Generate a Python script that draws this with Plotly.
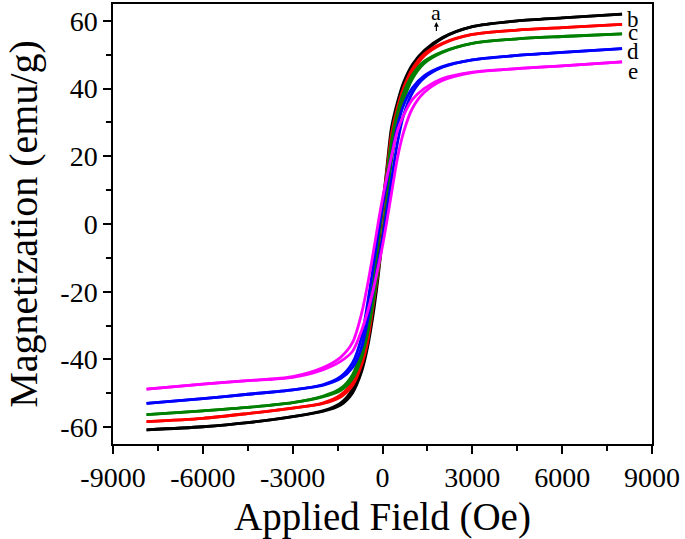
import plotly.graph_objects as go

# Applied field grid (Oe)
field = [-7880, -6000, -4500, -3000, -2000, -1400, -1000, -700, -500, -300, -150, 0,
         150, 300, 500, 700, 1000, 1400, 2000, 3000, 4500, 6000, 8000]

# Magnetization (emu/g): descending (upper) and ascending (lower) branches
a_up = [-60.8, -59.9, -58.7, -56.9, -55.2, -52.9, -48.7, -41.3, -32.5, -20.0, -8.0, 5.0,
        17.0, 28.5, 36.0, 41.7, 47.1, 51.3, 55.1, 58.3, 60.0, 60.9, 62.0]
a_low = [-60.8, -59.9, -58.7, -56.9, -55.4, -53.5, -49.9, -43.7, -36.5, -26.0, -16.0, -4.0,
         9.0, 22.5, 32.0, 39.3, 45.9, 50.7, 54.9, 58.3, 60.0, 60.9, 62.0]

b_up = [-58.4, -57.4, -56.0, -54.4, -52.9, -50.5, -46.5, -39.3, -31.0, -17.5, -6.5, 5.0,
        16.0, 26.5, 34.5, 40.2, 45.9, 50.3, 53.4, 56.0, 57.3, 58.0, 59.0]
b_low = [-58.4, -57.4, -56.0, -54.4, -53.1, -51.1, -47.7, -41.7, -35.0, -23.5, -14.5, -4.0,
         8.0, 20.5, 30.5, 37.8, 44.7, 49.7, 53.2, 56.0, 57.3, 58.0, 59.0]

c_up = [-56.3, -55.2, -54.2, -52.8, -50.9, -48.6, -44.5, -37.1, -28.5, -16.5, -6.0, 5.0,
        15.0, 24.5, 33.0, 38.7, 44.1, 48.1, 50.9, 53.4, 54.7, 55.4, 56.2]
c_low = [-56.3, -55.2, -54.2, -52.8, -51.1, -49.2, -45.7, -39.5, -32.5, -22.5, -14.0, -4.0,
         7.0, 18.5, 29.0, 36.3, 42.9, 47.5, 50.7, 53.4, 54.7, 55.4, 56.2]

d_up = [-53.0, -51.6, -50.3, -49.0, -47.5, -45.1, -41.0, -33.5, -23.5, -12.0, -3.2, 5.3,
        12.8, 20.0, 29.0, 35.0, 40.2, 43.8, 46.5, 48.5, 49.8, 50.7, 51.8]
d_low = [-53.0, -51.6, -50.3, -49.0, -47.7, -45.7, -42.4, -36.5, -28.5, -19.0, -11.8, -4.3,
         4.2, 13.0, 24.0, 32.0, 38.8, 43.2, 46.3, 48.5, 49.8, 50.7, 51.8]

e_up = [-48.8, -47.3, -46.3, -45.1, -42.5, -39.4, -35.0, -26.5, -18.0, -8.0, 0.0, 7.5,
        14.0, 20.0, 27.5, 32.0, 36.8, 40.1, 43.0, 44.9, 45.9, 46.7, 47.9]
e_low = [-48.8, -47.3, -46.3, -45.3, -43.1, -40.6, -37.6, -31.5, -26.0, -19.0, -13.0, -6.5,
         1.0, 9.0, 19.5, 27.0, 34.2, 38.9, 42.4, 44.7, 45.9, 46.7, 47.9]

samples = [
    ("a", a_up, a_low, "#000000"),
    ("b", b_up, b_low, "#ff0000"),
    ("c", c_up, c_low, "#008000"),
    ("d", d_up, d_low, "#0000ff"),
    ("e", e_up, e_low, "#ff00ff"),
]

# label positions (end labels)
end_labels = ["b", "c", "d", "e"]
end_label_y = [60.3, 56.5, 51.1, 45.2]

x_ticks = [-9000, -6000, -3000, 0, 3000, 6000, 9000]
y_ticks = [-60, -40, -20, 0, 20, 40, 60]

FONT = "Liberation Serif, Times New Roman, serif"

fig = go.Figure()
for name, up, low, col in samples:
    for branch in (low, up):
        fig.add_trace(go.Scatter(
            x=field, y=branch, mode="lines",
            line=dict(color=col, width=2.8, shape="spline", smoothing=0.8),
            showlegend=False, hoverinfo="skip", name=name))

axis_common = dict(
    showline=True, linecolor="black", linewidth=1.5, mirror=True,
    ticks="outside", ticklen=8, tickwidth=1.5, tickcolor="black",
    showgrid=False, zeroline=False, automargin=False,
    tickfont=dict(family=FONT, size=28, color="black"),
)

fig.update_xaxes(
    range=[-9000, 9000], tickvals=x_ticks, ticktext=[str(v) for v in x_ticks],
    minor=dict(ticks="outside", ticklen=5, tickwidth=1.5, tickcolor="black", dtick=1500,
               showgrid=False),
    title=dict(text="Applied Field (Oe)", font=dict(family=FONT, size=39, color="black"),
               standoff=10),
    **axis_common)
fig.update_yaxes(
    range=[-65, 65], tickvals=y_ticks, ticktext=[str(v) for v in y_ticks],
    minor=dict(ticks="outside", ticklen=5, tickwidth=1.5, tickcolor="black", dtick=10,
               showgrid=False),
    title=dict(text="Magnetization (emu/g)", font=dict(family=FONT, size=40, color="black"),
               standoff=10),
    **axis_common)

for lab, yv in zip(end_labels, end_label_y):
    fig.add_annotation(x=8350, y=yv, text=lab, showarrow=False, xanchor="center",
                       yanchor="middle",
                       font=dict(family=FONT, size=23, color="black"))

fig.add_annotation(x=1800, y=62.6, text="a", showarrow=False, yanchor="middle",
                   font=dict(family=FONT, size=22, color="black"))
fig.add_annotation(x=1800, y=59.7, ax=1800, ay=56.6, axref="x", ayref="y",
                   text="", showarrow=True, arrowhead=2, arrowsize=0.8,
                   arrowwidth=1.2, arrowcolor="black")

fig.update_layout(
    width=685, height=539,
    margin=dict(l=113, r=33, t=4, b=95),
    paper_bgcolor="white", plot_bgcolor="white",
)

fig.write_html("out.html", config={"displayModeBar": False},
               post_script="document.body.style.margin='0';")
